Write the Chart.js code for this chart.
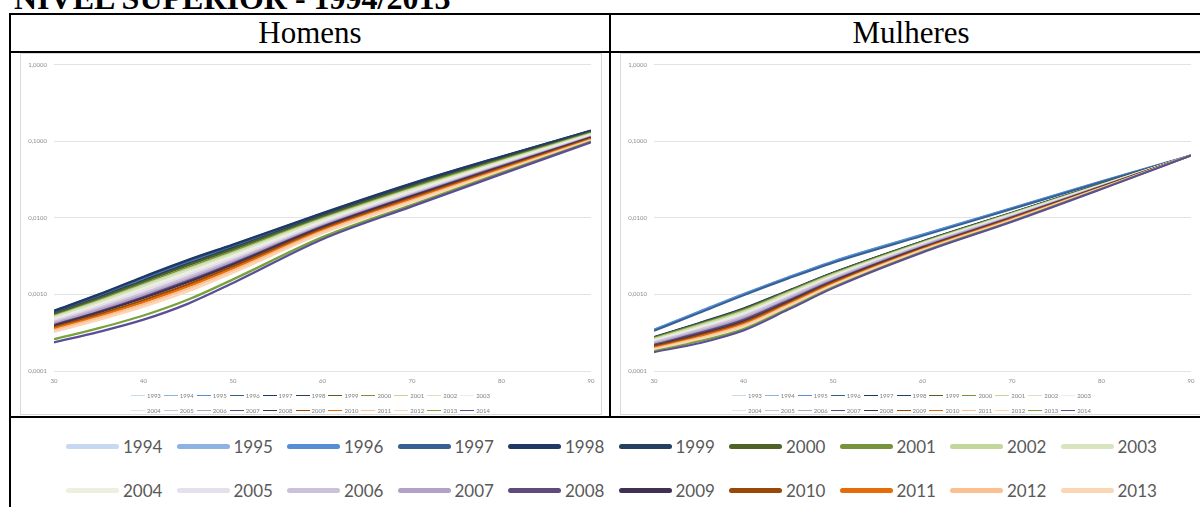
<!DOCTYPE html>
<html>
<head>
<meta charset="utf-8">
<script src="https://cdn.jsdelivr.net/npm/chart.js@4.4.1/dist/chart.umd.min.js"></script>
<style>
  body { margin: 0; width: 1200px; height: 507px; overflow: hidden; position: relative; background: #fff; }
  .abs { position: absolute; }
  .bar { position: absolute; background: #000; }
  #title { left: 14px; top: -18px; font: bold 32px/32px "Liberation Serif", serif; white-space: nowrap; }
  .head { top: 15px; height: 36px; font: 31px/36px "Liberation Serif", serif; text-align: center; }
  .panel { position: absolute; border: 1px solid #d9d9d9; box-sizing: border-box; }
  .mini { position: absolute; font-family: Lato, sans-serif; font-size: 6px; color: #7f7f7f; }
  .mini .row { display: flex; justify-content: center; align-items: center; height: 15px; }
  .mini .item { display: flex; align-items: center; margin-right: 3px; }
  .mini .ln { width: 14px; height: 1.5px; margin-right: 2px; }
  #legend { position: absolute; left: 66px; top: 424px; font-family: Lato, sans-serif; font-size: 17px; color: #595959; }
  #legend .row { display: flex; height: 44px; align-items: center; }
  #legend .item { display: flex; align-items: center; width: 110.5px; }
  #legend .ln { width: 53px; height: 5px; border-radius: 3px; margin-right: 4px; }
</style>
</head>
<body>
<div id="title" class="abs">NÍVEL SUPERIOR - 1994/2013</div>

<div class="bar" style="left:9px;top:13px;width:1191px;height:2px"></div>
<div class="bar" style="left:9px;top:51px;width:1191px;height:2px"></div>
<div class="bar" style="left:9px;top:416px;width:1191px;height:2px"></div>
<div class="bar" style="left:9px;top:13px;width:2px;height:494px"></div>
<div class="bar" style="left:609px;top:13px;width:2px;height:405px"></div>

<div class="abs head" style="left:11px;width:598px">Homens</div>
<div class="abs head" style="left:611px;width:600px">Mulheres</div>

<div class="panel" style="left:20px;top:53px;width:582px;height:362px"></div>
<div class="panel" style="left:620px;top:53px;width:590px;height:362px"></div>

<canvas id="homens" class="abs" style="left:21px;top:54px" width="580" height="340"></canvas>
<canvas id="mulheres" class="abs" style="left:621px;top:54px" width="580" height="340"></canvas>

<div id="miniL" class="mini" style="left:20px;width:584px;top:388px"></div>
<div id="miniR" class="mini" style="left:620px;width:586px;top:388px"></div>

<div id="legend"></div>

<script>
// ------
// data
// ------
const ages = [30, 35, 40, 45, 50, 60, 70, 80, 90];
const xTicks = [30, 40, 50, 60, 70, 80, 90];
const yTickValues = [0.0001, 0.001, 0.01, 0.1, 1];
const yTickLabels = ['0,0001', '0,0010', '0,0100', '0,1000', '1,0000'];

const seriesYears = [1993, 1994, 1995, 1996, 1997, 1998, 1999, 2000, 2001, 2002, 2003,
                     2004, 2005, 2006, 2007, 2008, 2009, 2010, 2011, 2012, 2013, 2014];
const seriesColors = ['#c6d9f1', '#8db3e2', '#558ed5', '#376092', '#1f3864', '#254061',
                      '#4f6228', '#77933c', '#c3d69b', '#d7e4bd', '#ebf1de', '#e6e0ec',
                      '#ccc1da', '#b3a2c7', '#604a7b', '#403152', '#984807', '#e46c0a',
                      '#fac090', '#fcd5b5', '#77a33c', '#5b4e96'];

const legendYears = [1994, 1995, 1996, 1997, 1998, 1999, 2000, 2001, 2002, 2003,
                     2004, 2005, 2006, 2007, 2008, 2009, 2010, 2011, 2012, 2013];
const legendColors = ['#c6d9f1', '#8db3e2', '#558ed5', '#376092', '#1f3864', '#254061',
                      '#4f6228', '#77933c', '#c3d69b', '#d7e4bd', '#ebf1de', '#e6e0ec',
                      '#ccc1da', '#b3a2c7', '#604a7b', '#403152', '#984807', '#e46c0a',
                      '#fac090', '#fcd5b5'];

// one row per year of seriesYears, one value per age
const homensValues = [
  [0.000574, 0.000931, 0.00157, 0.00259, 0.00415, 0.01090, 0.0269, 0.0610, 0.1345],
  [0.000583, 0.000951, 0.00160, 0.00266, 0.00424, 0.01110, 0.0273, 0.0617, 0.1352],
  [0.000587, 0.000957, 0.00162, 0.00268, 0.00428, 0.01110, 0.0274, 0.0618, 0.1355],
  [0.000601, 0.000984, 0.00167, 0.00276, 0.00439, 0.01135, 0.0278, 0.0626, 0.1368],
  [0.000610, 0.001000, 0.00170, 0.00282, 0.00447, 0.01150, 0.0281, 0.0631, 0.1370],
  [0.000562, 0.000908, 0.00152, 0.00252, 0.00405, 0.01070, 0.0265, 0.0603, 0.1334],
  [0.000550, 0.000881, 0.00146, 0.00241, 0.00388, 0.01040, 0.0256, 0.0585, 0.1303],
  [0.000525, 0.000834, 0.00137, 0.00224, 0.00364, 0.00991, 0.0245, 0.0565, 0.1274],
  [0.000514, 0.000809, 0.00132, 0.00215, 0.00350, 0.00959, 0.0237, 0.0549, 0.1247],
  [0.000501, 0.000783, 0.00127, 0.00207, 0.00336, 0.00931, 0.0230, 0.0536, 0.1225],
  [0.000479, 0.000743, 0.00119, 0.00194, 0.00318, 0.00895, 0.0222, 0.0521, 0.1205],
  [0.000458, 0.000703, 0.00112, 0.00181, 0.00299, 0.00856, 0.0213, 0.0504, 0.1175],
  [0.000437, 0.000664, 0.00104, 0.00169, 0.00280, 0.00817, 0.0204, 0.0487, 0.1148],
  [0.000417, 0.000628, 0.000982, 0.00159, 0.00266, 0.00792, 0.0199, 0.0478, 0.1135],
  [0.000397, 0.000594, 0.000925, 0.00150, 0.00253, 0.00767, 0.0194, 0.0470, 0.1123],
  [0.000390, 0.000581, 0.000897, 0.00145, 0.00246, 0.00750, 0.0190, 0.0460, 0.1108],
  [0.000372, 0.000548, 0.000839, 0.00135, 0.00231, 0.00718, 0.0182, 0.0447, 0.1085],
  [0.000358, 0.000522, 0.000792, 0.00127, 0.00218, 0.00687, 0.0175, 0.0432, 0.1058],
  [0.000341, 0.000493, 0.000741, 0.00119, 0.00205, 0.00659, 0.0168, 0.0418, 0.1037],
  [0.000325, 0.000466, 0.000692, 0.00110, 0.00192, 0.00628, 0.0161, 0.0404, 0.1012],
  [0.000260, 0.000362, 0.000530, 0.000857, 0.00157, 0.00560, 0.0148, 0.0385, 0.0991],
  [0.000236, 0.000324, 0.000468, 0.000759, 0.00141, 0.00525, 0.0141, 0.0372, 0.0970]
];

const mulheresValues = [
  [0.000344, 0.000586, 0.001000, 0.00166, 0.00267, 0.00596, 0.01327, 0.0298, 0.065],
  [0.000345, 0.000588, 0.001005, 0.00167, 0.00268, 0.00598, 0.01333, 0.0299, 0.065],
  [0.000348, 0.000594, 0.001014, 0.00168, 0.00270, 0.00604, 0.01346, 0.0300, 0.065],
  [0.000334, 0.000570, 0.000973, 0.00161, 0.00259, 0.00581, 0.01300, 0.0293, 0.065],
  [0.000278, 0.000422, 0.000655, 0.00112, 0.00192, 0.00493, 0.01166, 0.0276, 0.065],
  [0.000275, 0.000417, 0.000646, 0.00111, 0.00191, 0.00490, 0.01161, 0.0275, 0.065],
  [0.000273, 0.000412, 0.000637, 0.00110, 0.00189, 0.00486, 0.01156, 0.0275, 0.065],
  [0.000269, 0.000405, 0.000625, 0.00108, 0.00186, 0.00482, 0.01145, 0.0273, 0.065],
  [0.000263, 0.000394, 0.000605, 0.00105, 0.00182, 0.00474, 0.01128, 0.0271, 0.065],
  [0.000255, 0.000378, 0.000579, 0.00101, 0.00176, 0.00463, 0.01108, 0.0268, 0.065],
  [0.000250, 0.000367, 0.000560, 0.000980, 0.00172, 0.00456, 0.01094, 0.0266, 0.065],
  [0.000243, 0.000355, 0.000539, 0.000947, 0.00168, 0.00447, 0.01078, 0.0264, 0.065],
  [0.000236, 0.000343, 0.000519, 0.000916, 0.00163, 0.00439, 0.01060, 0.0261, 0.065],
  [0.000228, 0.000327, 0.000492, 0.000875, 0.00157, 0.00427, 0.01037, 0.0259, 0.065],
  [0.000220, 0.000313, 0.000468, 0.000837, 0.00151, 0.00416, 0.01016, 0.0256, 0.065],
  [0.000213, 0.000300, 0.000447, 0.000804, 0.00147, 0.00406, 0.00997, 0.0253, 0.065],
  [0.000208, 0.000290, 0.000430, 0.000777, 0.00143, 0.00399, 0.00981, 0.0251, 0.065],
  [0.000201, 0.000279, 0.000411, 0.000747, 0.00138, 0.00390, 0.00963, 0.0248, 0.065],
  [0.000196, 0.000269, 0.000396, 0.000722, 0.00134, 0.00382, 0.00948, 0.0246, 0.065],
  [0.000191, 0.000260, 0.000380, 0.000698, 0.00131, 0.00375, 0.00932, 0.0244, 0.065],
  [0.000181, 0.000244, 0.000354, 0.000656, 0.00124, 0.00361, 0.00905, 0.0239, 0.065],
  [0.000176, 0.000230, 0.000338, 0.000631, 0.00121, 0.00353, 0.00888, 0.0237, 0.065]
];

// ------
// charts
// ------
function makeChart(id, values, width) {
  new Chart(document.getElementById(id), {
    type: 'line',
    data: {
      datasets: seriesYears.map((yr, i) => ({
        label: String(yr),
        data: ages.map((a, k) => ({ x: a, y: values[i][k] })),
        borderColor: seriesColors[i],
        borderWidth: width,
        pointRadius: 0,
        cubicInterpolationMode: 'monotone',
        order: -i,
      })),
    },
    options: {
      responsive: false,
      animation: false,
      events: [],
      layout: { padding: { top: 7, right: 10, bottom: 0, left: 0 } },
      plugins: { legend: { display: false }, tooltip: { enabled: false } },
      scales: {
        x: {
          type: 'linear', min: 30, max: 90,
          afterBuildTicks: ax => { ax.ticks = xTicks.map(v => ({ value: v })); },
          afterFit: s => { s.height = 23; },
          grid: { display: false, drawTicks: false },
          border: { display: false },
          ticks: { padding: 6, color: '#8c8c8c', font: { size: 6, family: 'Lato' }, maxRotation: 0 },
        },
        y: {
          type: 'logarithmic', min: 0.0001, max: 1,
          afterBuildTicks: ax => { ax.ticks = yTickValues.map(v => ({ value: v })); },
          afterFit: s => { s.width = 33; },
          grid: { color: '#e3e3e3', drawTicks: false },
          border: { display: false },
          ticks: {
            padding: 7, color: '#8c8c8c', font: { size: 6, family: 'Lato' },
            callback: (v, i) => yTickLabels[i],
          },
        },
      },
    },
  });
}

makeChart('homens', homensValues, 2.3);
makeChart('mulheres', mulheresValues, 2);

// ------
// legends
// ------
function miniLegend(id) {
  const box = document.getElementById(id);
  for (let r = 0; r < 2; r++) {
    const row = document.createElement('div');
    row.className = 'row';
    for (let i = r * 11; i < r * 11 + 11; i++) {
      const it = document.createElement('div');
      it.className = 'item';
      it.innerHTML = '<span class="ln" style="background:' + seriesColors[i] + '"></span>' + seriesYears[i];
      row.appendChild(it);
    }
    box.appendChild(row);
  }
}
miniLegend('miniL');
miniLegend('miniR');

const lg = document.getElementById('legend');
for (let r = 0; r < 2; r++) {
  const row = document.createElement('div');
  row.className = 'row';
  for (let i = r * 10; i < r * 10 + 10; i++) {
    const it = document.createElement('div');
    it.className = 'item';
    it.innerHTML = '<span class="ln" style="background:' + legendColors[i] + '"></span>' + legendYears[i];
    row.appendChild(it);
  }
  lg.appendChild(row);
}
</script>
</body>
</html>
